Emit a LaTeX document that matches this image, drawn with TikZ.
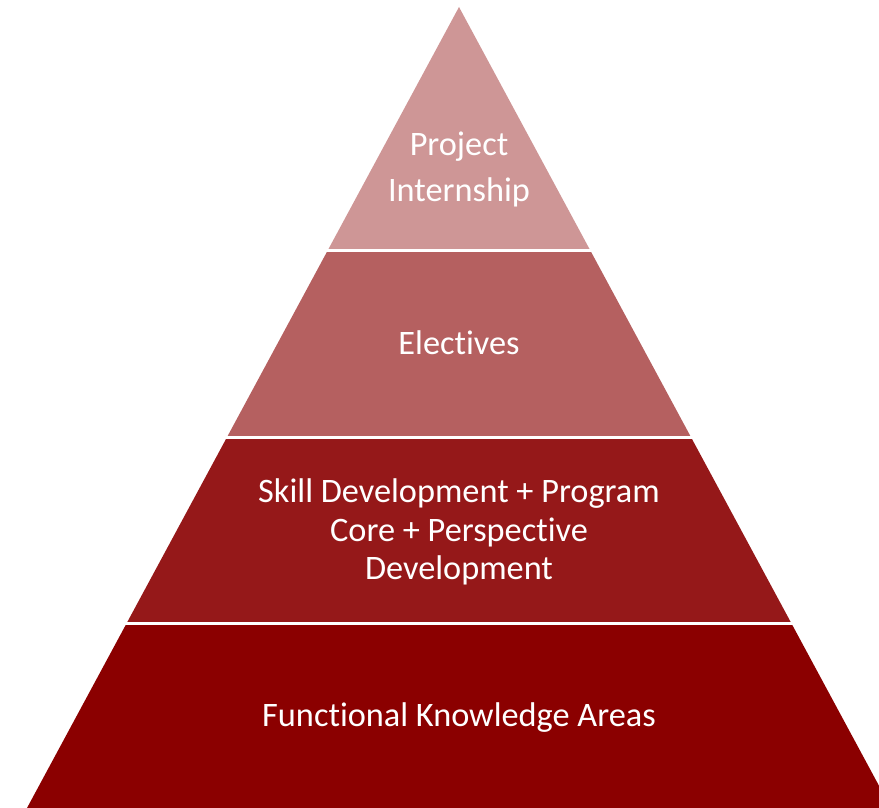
\documentclass[tikz,border=0pt]{standalone}
\usepackage{fontspec}
\setmainfont{Carlito}[Ligatures={NoCommon,NoContextual}]
\usetikzlibrary{calc}
\definecolor{layerA}{RGB}{206,150,150}
\definecolor{layerB}{RGB}{181,96,96}
\definecolor{layerC}{RGB}{149,24,25}
\definecolor{layerD}{RGB}{139,0,0}
\newcommand{\nlg}{\kern0pt }
\tikzset{
  lbl/.style={text=white,font=\fontsize{34.3}{40}\selectfont,anchor=base,inner sep=0pt},
  gap/.style={draw=white,line width=2.6pt}
}
\begin{document}
\begin{tikzpicture}[x=1pt,y=-1pt]
\useasboundingbox (0,0) rectangle (879,808);
\clip (0,0) rectangle (879,808);
\coordinate (A) at (459,7);
\coordinate (BL) at (27,808);
\coordinate (BR) at (891,808);
\coordinate (P1L) at ($(A)!0.30400!(BL)$);
\coordinate (P1R) at ($(A)!0.30400!(BR)$);
\coordinate (P2L) at ($(A)!0.53745!(BL)$);
\coordinate (P2R) at ($(A)!0.53745!(BR)$);
\coordinate (P3L) at ($(A)!0.76966!(BL)$);
\coordinate (P3R) at ($(A)!0.76966!(BR)$);
\fill[layerA] (A) -- (P1L) -- (P1R) -- cycle;
\fill[layerB] (P1L) -- (P2L) -- (P2R) -- (P1R) -- cycle;
\fill[layerC] (P2L) -- (P3L) -- (P3R) -- (P2R) -- cycle;
\fill[layerD] (P3L) -- (BL) -- (BR) -- (P3R) -- cycle;
\draw[gap] ($(P1L)+(-3,0)$) -- ($(P1R)+(3,0)$);
\draw[gap] ($(P2L)+(-3,0)$) -- ($(P2R)+(3,0)$);
\draw[gap] ($(P3L)+(-3,0)$) -- ($(P3R)+(3,0)$);
\node[lbl] (t1) at (459,155) {Project};
\node[lbl] (t2) at (459,201) {Internship};
\node[lbl] (t3) at (459,354) {Elect\nlg ives};
\node[lbl] (t4) at (459,502) {Skill Development + Program};
\node[lbl] (t5) at (459,541) {Core + Perspect\nlg ive};
\node[lbl] (t6) at (459,579) {Development};
\node[lbl] (t7) at (459,726) {Funct\nlg ional Knowledge Areas};
\end{tikzpicture}
\end{document}
